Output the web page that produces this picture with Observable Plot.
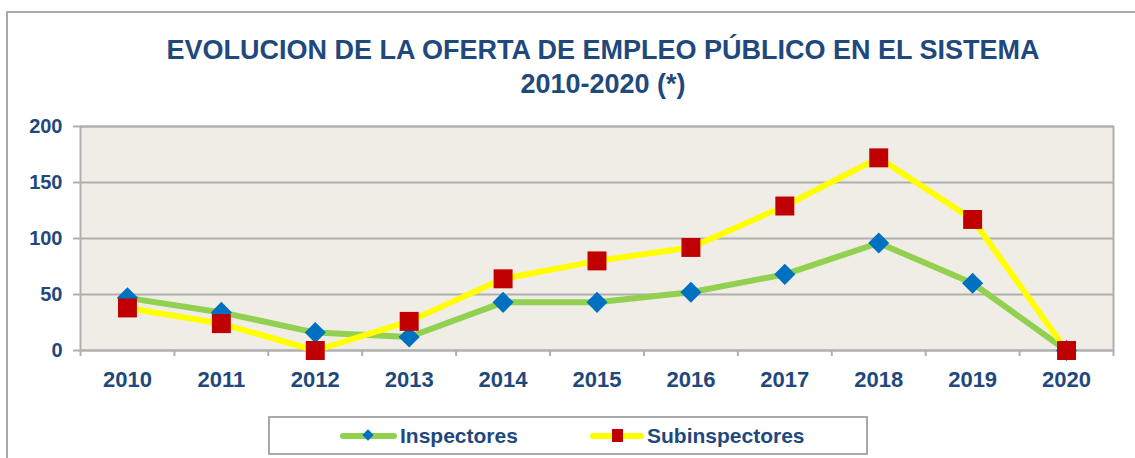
<!DOCTYPE html>
<html>
<head>
<meta charset="utf-8">
<script src="https://cdn.jsdelivr.net/npm/d3@7"></script>
<script src="https://cdn.jsdelivr.net/npm/@observablehq/plot@0.6"></script>
<style>
  html, body { margin: 0; padding: 0; background: #fff; width: 1135px; height: 458px; overflow: hidden; }
  #frame { position: absolute; left: 6px; top: 11px; width: 1140px; height: 460px; border: 2px solid #a9a9a9; box-sizing: border-box; }
  #title { position: absolute; left: 0; top: 33px; width: 1206px; text-align: center;
    font-family: "Liberation Sans", Arial, sans-serif; font-weight: bold; font-size: 27px; line-height: 34px; color: #1F497D; }
  #chart { position: absolute; left: 0; top: 100px; }
  #legend { position: absolute; left: 268px; top: 416px; width: 600px; height: 39px; box-sizing: border-box;
    border: 2px solid #a9a9a9; background: #fff; font-family: "Liberation Sans", Arial, sans-serif; font-weight: bold; font-size: 21px; color: #1F497D; }
  .item { position: absolute; top: 0; height: 35px; display: flex; align-items: center; }
  .sw { position: relative; width: 57px; height: 35px; margin-right: 3px; }
  .sw .ln { position: absolute; left: 0; right: 0; top: 15px; height: 6px; border-radius: 3px; }
  .sw .mk { position: absolute; }
</style>
</head>
<body>
<div id="frame"></div>
<div id="title">EVOLUCION DE LA OFERTA DE EMPLEO PÚBLICO EN EL SISTEMA<br>2010-2020 (*)</div>
<div id="chart"></div>
<div id="legend">
  <div class="item" style="left:70px"><div class="sw"><div class="ln" style="background:#92D050"></div><div class="mk" style="left:24px;top:13px;width:8px;height:8px;background:#0070C0;transform:rotate(45deg)"></div></div><span>Inspectores</span></div>
  <div class="item" style="left:320px"><div class="sw" style="width:54px"><div class="ln" style="background:#FFFF00"></div><div class="mk" style="left:22px;top:11px;width:11px;height:13px;background:#C00000"></div></div><span>Subinspectores</span></div>
</div>
<script>
const years = [2010, 2011, 2012, 2013, 2014, 2015, 2016, 2017, 2018, 2019, 2020];
const inspectores = [47, 34, 16, 12, 43, 43, 52, 68, 96, 60, 0];
const subinspectores = [38, 24, 0, 26, 64, 80, 92, 129, 172, 117, 0];
const yTicks = [0, 50, 100, 150, 200];

const data = years.map((y, i) => ({year: y, ins: inspectores[i], sub: subinspectores[i]}));
const bounds = years.map(y => y - 0.5).concat([years[years.length - 1] + 0.5]);
const textColor = "#1F497D";
const gridColor = "#B0B0B0";

const chart = Plot.plot({
  width: 1135,
  height: 295,
  marginLeft: 80,
  marginRight: 22,
  marginTop: 26,
  marginBottom: 45,
  style: {fontFamily: "Liberation Sans, Arial, sans-serif", background: "transparent"},
  x: {domain: [years[0] - 0.5, years[years.length - 1] + 0.5]},
  y: {domain: [0, 200]},
  marks: [
    Plot.frame({fill: "#F0EDE6", stroke: null}),
    Plot.gridY(yTicks, {stroke: gridColor, strokeOpacity: 1, strokeWidth: 2}),
    Plot.frame({stroke: gridColor, strokeWidth: 2}),
    Plot.axisY({ticks: yTicks, tickSize: 7, tickPadding: 11, stroke: gridColor, strokeWidth: 2, strokeOpacity: 1,
      fill: textColor, fontSize: 20, fontWeight: "bold", tickFormat: d => String(d), label: null}),
    Plot.axisX({ticks: bounds, tickSize: 6, stroke: gridColor, strokeWidth: 2, strokeOpacity: 1, tickFormat: () => "", label: null}),
    Plot.axisX({ticks: years, tickSize: 0, tickPadding: 21, fill: textColor, fontSize: 22, fontWeight: "bold",
      tickFormat: d => String(d), label: null}),
    Plot.line(data, {x: "year", y: "ins", stroke: "#92D050", strokeWidth: 6}),
    Plot.line(data, {x: "year", y: "sub", stroke: "#FFFF00", strokeWidth: 6}),
    Plot.dot(data, {x: "year", y: "ins", symbol: "diamond2", r: 9.5, fill: "#0070C0", stroke: null}),
    Plot.dot(data, {x: "year", y: "sub", symbol: "square", r: 10.7, fill: "#C00000", stroke: null})
  ]
});
document.getElementById("chart").appendChild(chart);
</script>
</body>
</html>
